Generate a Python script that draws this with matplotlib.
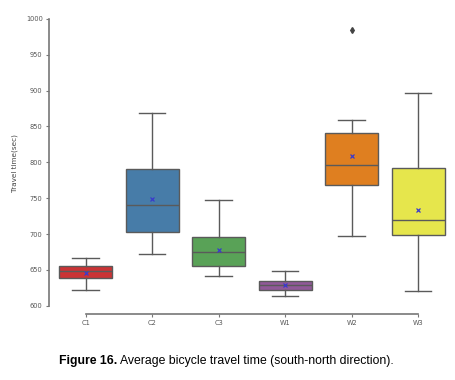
import matplotlib
matplotlib.use("Agg")
import matplotlib.pyplot as plt
from matplotlib import font_manager
import seaborn as sns

# summary stats (sec)
labels = ["C1", "C2", "C3", "W1", "W2", "W3"]
whislo = [622, 672, 642, 613, 697, 620]
q1 = [639, 703, 656, 622, 769, 699]
med = [648, 740, 675, 629, 796, 719]
q3 = [655, 790, 696, 635, 841, 792]
whishi = [666, 869, 747, 648, 859, 896]
means = [646, 749, 678, 629, 809, 734]
fliers = [[], [], [], [], [985], []]

colors = sns.color_palette("Set1", 6, desat=0.75)
line_col = "#5a5a5a"

stats = []
for i, lab in enumerate(labels):
    stats.append(dict(label=lab, whislo=whislo[i], q1=q1[i], med=med[i],
                      q3=q3[i], whishi=whishi[i], mean=means[i], fliers=fliers[i]))

fig = plt.figure(figsize=(4.56, 3.8), dpi=100)
ax = fig.add_axes([0.115, 0.184, 0.875, 0.774])

bp = ax.bxp(stats, positions=range(len(labels)), widths=0.8, patch_artist=True,
            showmeans=True,
            boxprops=dict(edgecolor=line_col, linewidth=1.0),
            medianprops=dict(color=line_col, linewidth=1.0),
            whiskerprops=dict(color=line_col, linewidth=1.0),
            capprops=dict(color=line_col, linewidth=1.0),
            meanprops=dict(marker="x", markeredgecolor="#3a3acc", markersize=3,
                           markeredgewidth=0.9),
            flierprops=dict(marker="d", markerfacecolor="#444444",
                            markeredgecolor="#444444", markersize=3))
for patch, c in zip(bp["boxes"], colors):
    patch.set_facecolor(c)

ax.set_xlim(-0.5, 5.5)
ax.set_ylim(594, 1004)
ax.set_yticks(range(600, 1001, 50))
ax.set_xticks(range(len(labels)))
ax.set_xticklabels(labels)

for s in ["top", "right"]:
    ax.spines[s].set_visible(False)
ax.spines["left"].set_position(("outward", 2.5))
ax.spines["bottom"].set_position(("outward", 3))
ax.spines["left"].set_bounds(600, 1000)
ax.spines["bottom"].set_bounds(0, 5)
for s in ["left", "bottom"]:
    ax.spines[s].set_color("#777777")
    ax.spines[s].set_linewidth(1.2)

ax.tick_params(axis="both", labelsize=4.8, colors="#777777", labelcolor="#555555",
               length=2.5, width=0.8, pad=2)
ax.set_ylabel("Travel time(sec)", fontsize=5.2, color="#444444", labelpad=6)

# caption: bold part + normal part, condensed font if there is one
names = {f.name for f in font_manager.fontManager.ttflist}
if "Liberation Sans Narrow" in names:
    cap_font, cap_size = "Liberation Sans Narrow", 9.5
else:
    cap_font, cap_size = "Liberation Sans", 8.8
t1 = fig.text(59 / 456, 0.05, "Figure 16.", ha="left", va="center", fontsize=cap_size,
              family=cap_font, weight="bold")
fig.canvas.draw()
bb = t1.get_window_extent()
fig.text((bb.x1 + 3) / 456, 0.05, "Average bicycle travel time (south-north direction).",
         ha="left", va="center", fontsize=cap_size, family=cap_font)

fig.savefig("out.png", dpi=100)
